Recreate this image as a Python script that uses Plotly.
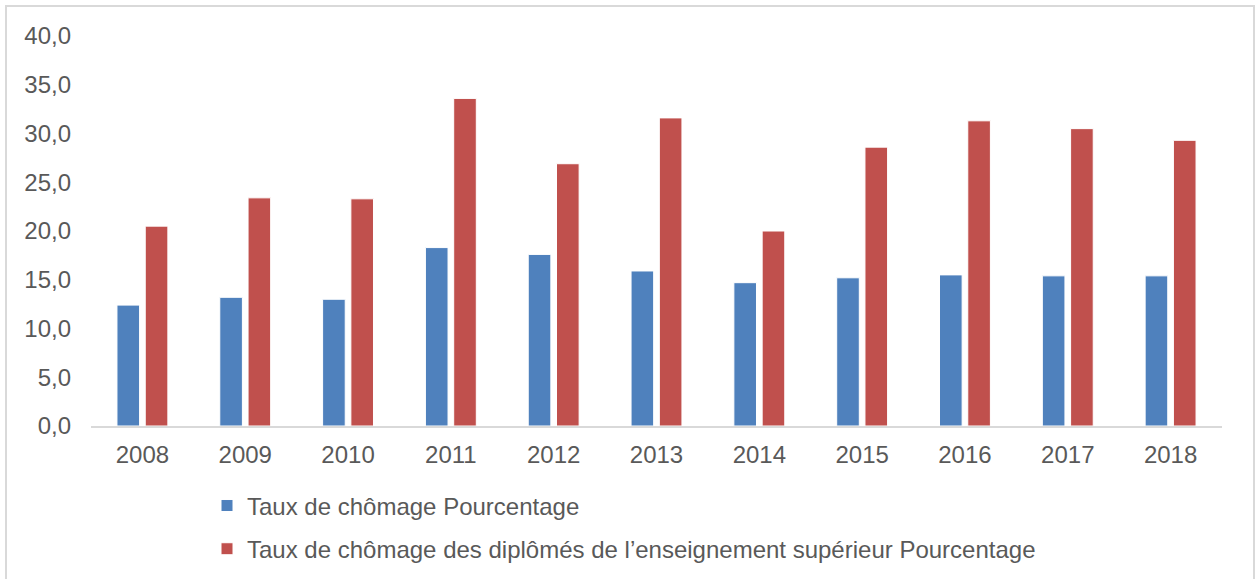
import plotly.graph_objects as go

years = ["2008", "2009", "2010", "2011", "2012", "2013", "2014", "2015", "2016", "2017", "2018"]
taux_chomage = [12.4, 13.2, 13.0, 18.3, 17.6, 15.9, 14.7, 15.2, 15.5, 15.4, 15.4]
taux_diplomes = [20.5, 23.4, 23.3, 33.6, 26.9, 31.6, 20.0, 28.6, 31.3, 30.5, 29.3]
y_ticks = [0, 5, 10, 15, 20, 25, 30, 35, 40]
y_tick_labels = ["0,0", "5,0", "10,0", "15,0", "20,0", "25,0", "30,0", "35,0", "40,0"]

name1 = "Taux de chômage Pourcentage"
name2 = "Taux de chômage des diplômés de l’enseignement supérieur Pourcentage"

W, H = 1256, 579
L, R, T, B = 91, 34, 36, 152.5
pw = W - L - R
ph = H - T - B

def px_x(p):
    return (p - L) / pw

def px_y(p):
    return (H - B - p) / ph

font = "Liberation Sans, Arial, sans-serif"
grey = "#595959"
fs = 24

fig = go.Figure()
fig.add_trace(go.Bar(x=years, y=taux_chomage, name=name1, legendgroup="a",
                     marker=dict(color="#4F81BD", line=dict(color="white", width=1))))
fig.add_trace(go.Bar(x=years, y=taux_diplomes, name=name2, legendgroup="b",
                     marker=dict(color="#C0504D", line=dict(color="white", width=1))))

fig.update_layout(
    width=W, height=H,
    margin=dict(l=L, r=R, t=T, b=B, autoexpand=False),
    paper_bgcolor="white", plot_bgcolor="white",
    barmode="group", bargap=0.45, bargroupgap=0.2,
    font=dict(family=font, size=fs, color=grey),
    showlegend=True,
    legend=dict(orientation="v", x=px_x(207), xanchor="left", y=px_y(484), yanchor="top",
                traceorder="grouped", tracegroupgap=9, font=dict(size=fs, color=grey),
                bgcolor="rgba(0,0,0,0)"),
    xaxis=dict(showgrid=False, showline=True, linecolor="#D9D9D9", linewidth=2,
               ticks="", ticklabelstandoff=6, tickfont=dict(size=fs, color=grey),
               zeroline=False, automargin=False),
    yaxis=dict(range=[0, 40], tickvals=y_ticks, ticktext=y_tick_labels, showgrid=False,
               showline=False, zeroline=False, ticks="", ticklabelstandoff=19,
               tickfont=dict(size=fs, color=grey), automargin=False),
)

# chart border
fig.add_shape(type="rect", xref="paper", yref="paper",
              x0=px_x(6), x1=px_x(1254), y0=px_y(585), y1=px_y(6),
              line=dict(color="#D9D9D9", width=2), fillcolor="rgba(0,0,0,0)", layer="below")

fig.write_html("out.html", config={"displayModeBar": False},
               post_script="document.body.style.margin='0';document.body.style.overflow='hidden';")
